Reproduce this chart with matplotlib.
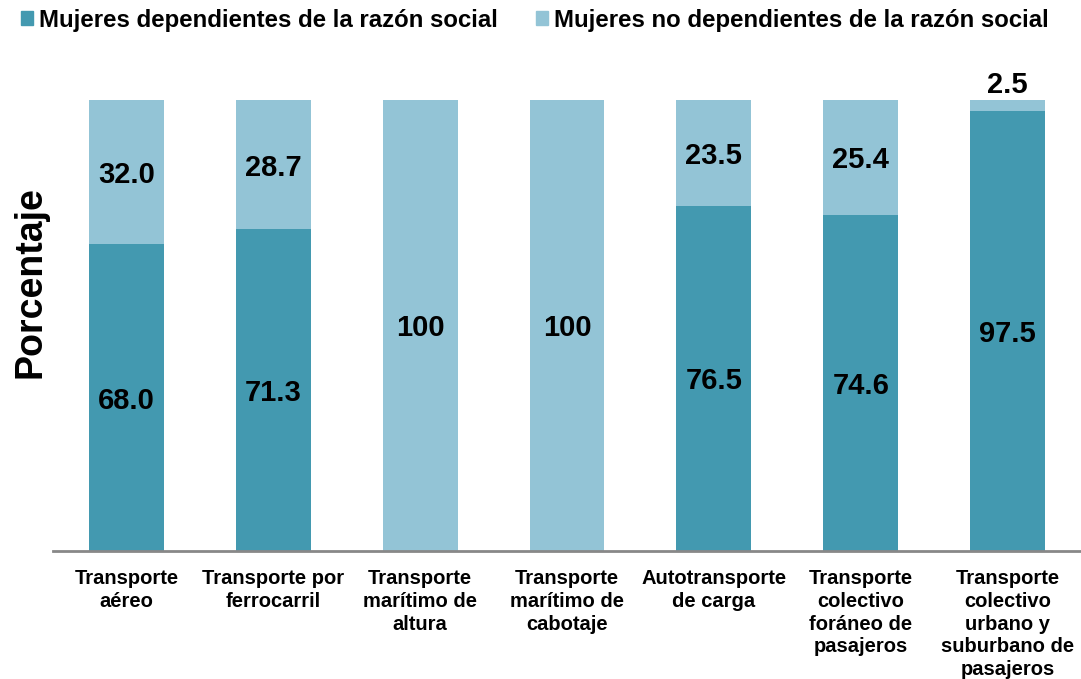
import matplotlib
matplotlib.use("Agg")
import matplotlib.pyplot as plt
from matplotlib.patches import Patch

plt.rcParams['font.family'] = ['Liberation Sans', 'DejaVu Sans']

categories = ["Transporte\naéreo", "Transporte por\nferrocarril", "Transporte\nmarítimo de\naltura",
              "Transporte\nmarítimo de\ncabotaje", "Autotransporte\nde carga",
              "Transporte\ncolectivo\nforáneo de\npasajeros",
              "Transporte\ncolectivo\nurbano y\nsuburbano de\npasajeros"]
dependientes = [68.0, 71.3, 0.0, 0.0, 76.5, 74.6, 97.5]
no_dependientes = [32.0, 28.7, 100.0, 100.0, 23.5, 25.4, 2.5]
series_names = ["Mujeres dependientes de la razón social", "Mujeres no dependientes de la razón social"]

c_dark = "#4399B0"
c_light = "#93C4D6"

fig = plt.figure(figsize=(10.81, 6.79), dpi=100)
ax = fig.add_axes([53/1081, 1-551/679, 1-53/1081, (551-100)/679])

x = list(range(len(categories)))
w = 0.51
ax.bar(x, dependientes, w, color=c_dark)
ax.bar(x, no_dependientes, w, bottom=dependientes, color=c_light)

fs = 21
for i in x:
    d, n = dependientes[i], no_dependientes[i]
    if d > 0:
        ax.text(i, d/2, f"{d:.1f}", ha='center', va='center_baseline', fontsize=fs, fontweight='bold')
    if n >= 100:
        ax.text(i, d + n/2, f"{n:.0f}", ha='center', va='center_baseline', fontsize=fs, fontweight='bold')
    elif n < 5:
        ax.text(i, d + n + 0.2, f"{n:.1f}", ha='center', va='bottom', fontsize=fs, fontweight='bold', clip_on=False)
    else:
        ax.text(i, d + n/2, f"{n:.1f}", ha='center', va='center_baseline', fontsize=fs, fontweight='bold')

ax.set_xlim(-0.5, 6.5)
ax.set_ylim(0, 100)
ax.set_xticks(x)
ax.set_xticklabels(categories, fontsize=14.5, fontweight='bold', linespacing=1.25)
ax.tick_params(axis='x', length=0, pad=13)
ax.set_yticks([])
for s in ['top', 'right', 'left']:
    ax.spines[s].set_visible(False)
ax.spines['bottom'].set_color('#888888')
ax.spines['bottom'].set_linewidth(2)

fig.text(31/1081, 1-282/679, "Porcentaje", rotation=90, ha='center', va='center', fontsize=27, fontweight='bold')

handles = [Patch(color=c_dark), Patch(color=c_light)]
fig.legend(handles, series_names, loc='center', bbox_to_anchor=(0.495, 1-20/679), ncol=2, frameon=False,
           prop={'size': 17.3, 'weight': 'bold'}, handlelength=0.5, handleheight=0.5, handletextpad=0.25,
           columnspacing=1.6, borderaxespad=0, borderpad=0)

fig.savefig("out.png", dpi=100)
